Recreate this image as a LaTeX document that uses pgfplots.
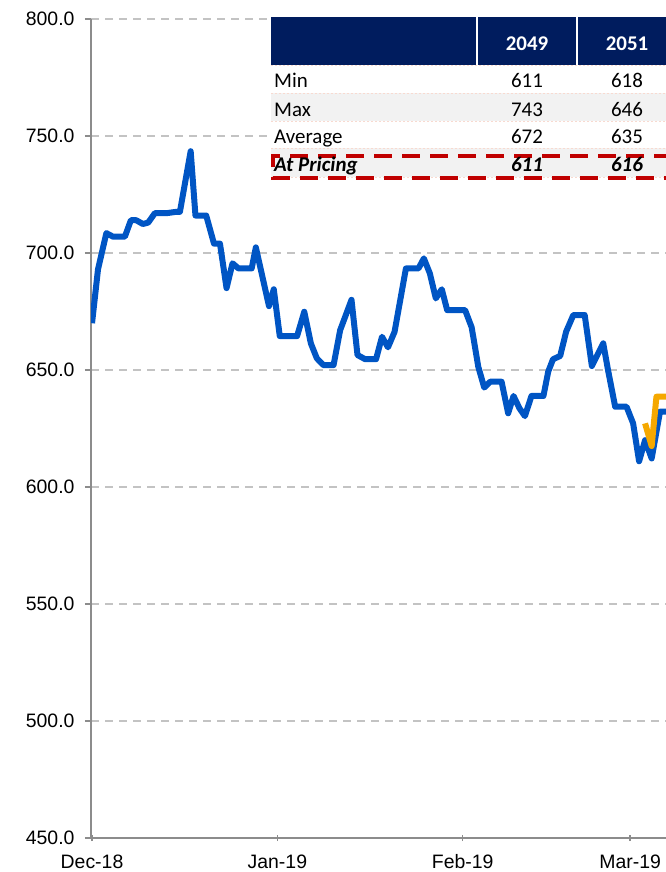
\documentclass[border=0pt]{standalone}
\usepackage{pgfplots}
\pgfplotsset{compat=1.18}
\usepackage{fontspec}
\setmainfont{Liberation Sans}
\newfontfamily\calfont{Carlito}
\definecolor{blueline}{RGB}{0,85,196}
\definecolor{orangeline}{RGB}{245,168,0}
\definecolor{navy}{RGB}{0,28,94}
\definecolor{gridgray}{RGB}{195,195,195}
\definecolor{axisgray}{RGB}{140,140,140}
\definecolor{rowgray}{RGB}{242,242,242}
\definecolor{dred}{RGB}{192,0,0}
\definecolor{sepcol}{RGB}{248,218,208}
\begin{document}
\begin{tikzpicture}
\path[use as bounding box] (0bp,0bp) rectangle (666bp,-872bp);
\begin{axis}[at={(91bp,-19bp)}, anchor=north west,
  width=575bp, height=819bp, scale only axis,
  xmin=-0.17, xmax=96, ymin=450, ymax=800,
  axis x line*=bottom, axis y line*=left,
  axis line style={axisgray, line width=1.5bp, -},
  xtick={0,31,62,90}, xticklabels={Dec-18,Jan-19,Feb-19,Mar-19},
  ytick={450,500,...,800},
  ymajorgrids, grid style={gridgray, line width=1.5bp, dash pattern=on 8bp off 6bp},
  tick style={axisgray, line width=1.5bp},
  major tick length=6bp,
  xtick align=center, ytick align=outside,
  /pgf/number format/assume math mode=true,
  yticklabel={\pgfmathprintnumber[fixed,fixed zerofill,precision=1]{\tick}},
  ticklabel style={font=\fontsize{19.5}{23}\selectfont, text=black},
  yticklabel style={xshift=-7bp},
  xticklabel style={yshift=-10bp},
  clip=true,
]
\addplot[blueline, line width=6bp, line join=round] coordinates {
(0,670) (1.0,693) (2.4,708.5) (3.5,707) (5.5,707) (6.5,714) (7.4,714) (8.5,712.4)
(9.4,713) (10.5,717) (12.4,717) (14.1,717.6) (14.7,717.6) (16.5,743.5) (17.3,716)
(19.1,716) (20.4,704) (21.4,704) (22.5,685) (23.5,695.6) (24.5,693.4) (26.7,693.4)
(27.4,702.4) (29.6,677.3) (30.4,684.5) (31.4,664.5) (34.3,664.5) (35.5,674.9)
(36.6,661.4) (37.6,655) (38.7,652.1) (40.4,652.1) (41.5,667) (43.4,680) (44.4,656.4)
(45.7,654.6) (47.5,654.6) (48.5,664.2) (49.5,659.7) (50.6,666.3) (52.5,693.4)
(54.6,693.4) (55.5,697.7) (56.5,691.3) (57.5,680.6) (58.5,684.5) (59.4,675.6)
(62.4,675.6) (63.5,668.2) (64.6,651.4) (65.6,642.5) (66.6,645) (68.5,645)
(69.6,631.5) (70.5,638.9) (71.5,633.6) (72.4,630.3) (73.5,638.9) (75.5,638.9)
(76.3,649.3) (77.1,654.6) (78.3,656) (79.3,666.4) (80.5,673.5) (82.4,673.5)
(83.6,651.7) (85.5,661.4) (86.3,650) (87.5,634.3) (89.4,634.3) (90.5,627.2)
(91.5,611) (92.5,620) (93.6,612.2) (95.0,632.2) (98,632.2)
};
\addplot[orangeline, line width=6bp, line join=round] coordinates {
(92.5,627.2) (93.6,617.5) (94.4,638.6) (98,638.6)
};
\end{axis}
\begin{scope}[x=1bp,y=-1bp]
  \fill[navy] (271,17) rectangle (700,65);
  \draw[white, line width=1.5bp] (477,17) -- (477,65) (577,17) -- (577,65);
  \fill[white] (271,65) rectangle (700,93);
  \fill[rowgray] (271,93) rectangle (700,121);
  \fill[white] (271,121) rectangle (700,148);
  \fill[rowgray] (271,148) rectangle (700,177);
  \draw[sepcol, line width=1bp, dash pattern=on 2bp off 2bp] (271,65) -- (700,65) (271,93) -- (700,93) (271,121) -- (700,121) (271,148) -- (700,148) (271,177) -- (700,177);
  \draw[dred, line width=4bp, dash pattern=on 18bp off 10bp] (700,156) -- (273,156) -- (273,178) -- (700,178);
  \begin{scope}[every node/.style={inner sep=0pt, font=\calfont\fontsize{21}{25}\selectfont}]
    \node[anchor=base, text=white, font=\calfont\bfseries\fontsize{21}{25}\selectfont] at (527,50) {2049};
    \node[anchor=base, text=white, font=\calfont\bfseries\fontsize{21}{25}\selectfont] at (627,50) {2051};
    \node[anchor=base west] at (274,87.5) {Min};
    \node[anchor=base west] at (274,116) {Max};
    \node[anchor=base west] at (274,143.5) {Average};
    \node[anchor=base west, font=\calfont\bfseries\itshape\fontsize{21}{25}\selectfont] at (274,171.5) {At Pricing};
    \node[anchor=base] at (527,87.5) {611};
    \node[anchor=base] at (627,87.5) {618};
    \node[anchor=base] at (527,116) {743};
    \node[anchor=base] at (627,116) {646};
    \node[anchor=base] at (527,143.5) {672};
    \node[anchor=base] at (627,143.5) {635};
    \node[anchor=base, font=\calfont\bfseries\itshape\fontsize{21}{25}\selectfont] at (527,171.5) {611};
    \node[anchor=base, font=\calfont\bfseries\itshape\fontsize{21}{25}\selectfont] at (627,171.5) {616};
  \end{scope}
\end{scope}
\end{tikzpicture}
\end{document}
